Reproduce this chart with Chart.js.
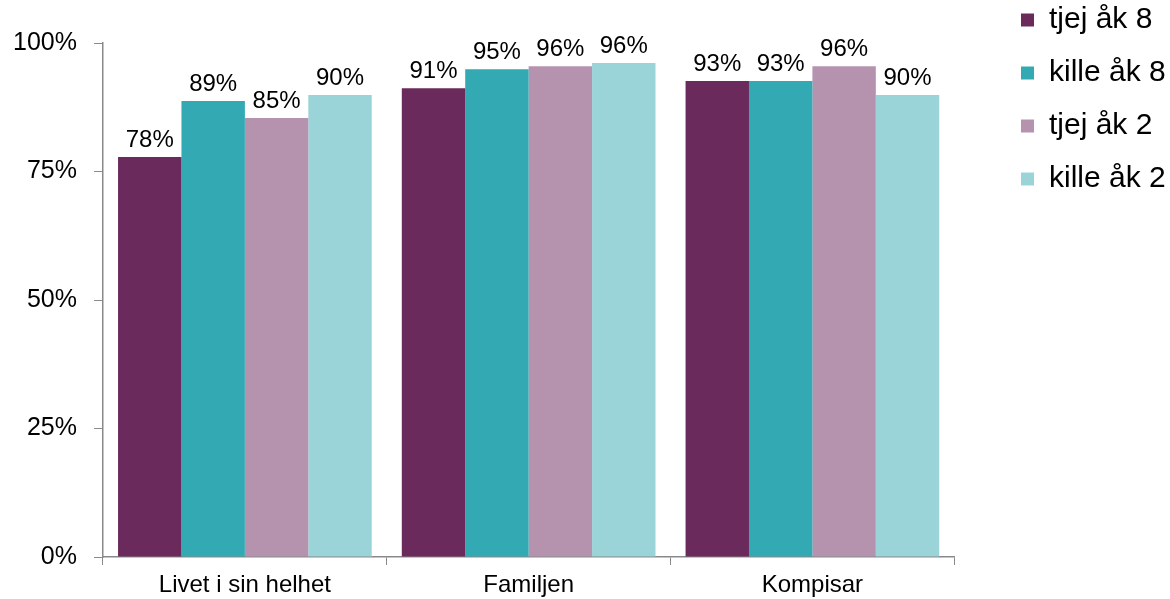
<!DOCTYPE html>
<html>
<head>
<meta charset="utf-8">
<script src="https://cdn.jsdelivr.net/npm/chart.js@4/dist/chart.umd.min.js"></script>
<style>
    html, body { margin: 0; padding: 0; background: #fff; }
    #wrap { width: 1170px; height: 599px; }
</style>
</head>
<body>
<div id="wrap"><canvas id="chart" width="1170" height="599"></canvas></div>
<script>
// Data
const categories = ['Livet i sin helhet', 'Familjen', 'Kompisar'];
const seriesNames = ['tjej åk 8', 'kille åk 8', 'tjej åk 2', 'kille åk 2'];
const tjejAk8 = [77.8, 91.2, 92.6];
const killeAk8 = [88.7, 94.9, 92.6];
const tjejAk2 = [85.4, 95.5, 95.5];
const killeAk2 = [89.9, 96.1, 89.9];
const yTicks = [0, 25, 50, 75, 100];

const COLORS = ['#6A2A5C', '#33A9B3', '#B593AE', '#9AD4D9'];
const FONT = 'Liberation Sans, Arial, sans-serif';

// Value labels above each bar
const barLabels = {
    id: 'barLabels',
    afterDatasetsDraw(chart) {
        const ctx = chart.ctx;
        ctx.save();
        ctx.font = '24px ' + FONT;
        ctx.fillStyle = '#000';
        ctx.textAlign = 'center';
        ctx.textBaseline = 'alphabetic';
        chart.data.datasets.forEach((ds, i) => {
            chart.getDatasetMeta(i).data.forEach((bar, j) => {
                ctx.fillText(Math.round(ds.data[j]) + '%', bar.x, bar.y - 10);
            });
        });
        ctx.restore();
    }
};

// Nudge the legend to where the reference has it
const legendPlace = {
    id: 'legendPlace',
    afterLayout(chart) {
        const lg = chart.legend;
        if (!lg) return;
        const dx = 1021 - (lg.left + lg.options.labels.padding);
        lg.left += dx;
        lg.right += dx;
        const dy = -18 - lg.top;
        lg.top += dy;
        lg.bottom += dy;
    }
};

const datasets = [tjejAk8, killeAk8, tjejAk2, killeAk2].map((d, i) => ({
    label: seriesNames[i],
    data: d,
    backgroundColor: COLORS[i],
    borderWidth: 0,
    categoryPercentage: 0.894,
    barPercentage: 1.0
}));

new Chart(document.getElementById('chart'), {
    type: 'bar',
    data: { labels: categories, datasets: datasets },
    options: {
        responsive: false,
        animation: false,
        layout: { padding: { top: 43, right: 38, left: 0, bottom: 0 } },
        scales: {
            x: {
                grid: { display: true, drawOnChartArea: false, drawTicks: true, tickLength: 8, color: '#898989', offset: true },
                border: { display: true, color: '#898989', width: 1.5 },
                ticks: { color: '#000', font: { family: FONT, size: 24 }, padding: 6, maxRotation: 0 },
                afterFit(scale) { scale.height = 42; }
            },
            y: {
                min: 0,
                max: 100,
                afterBuildTicks(scale) { scale.ticks = yTicks.map(v => ({ value: v })); },
                grid: { display: true, drawOnChartArea: false, drawTicks: true, tickLength: 9, color: '#898989' },
                border: { display: true, color: '#898989', width: 1.5 },
                ticks: { color: '#000', font: { family: FONT, size: 25 }, padding: 17, callback: v => v + '%' },
                afterFit(scale) { scale.width = 103; }
            }
        },
        plugins: {
            legend: {
                position: 'right',
                align: 'start',
                labels: {
                    color: '#000',
                    font: { family: FONT, size: 30 },
                    boxWidth: 13,
                    boxHeight: 13,
                    padding: 23
                }
            },
            tooltip: { enabled: false }
        }
    },
    plugins: [barLabels, legendPlace]
});
</script>
</body>
</html>
